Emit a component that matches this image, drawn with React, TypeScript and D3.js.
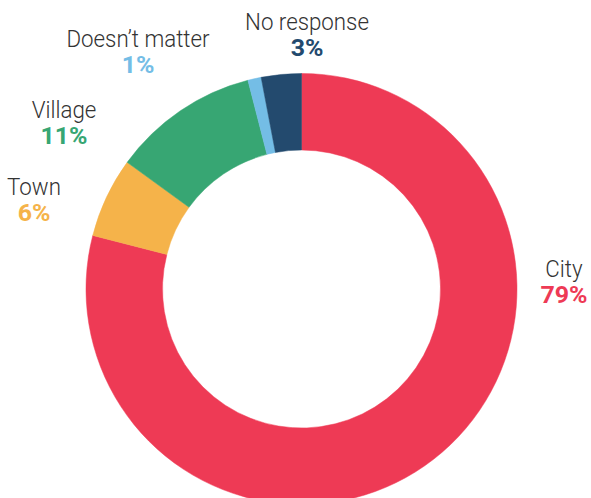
import React from "react";
import * as d3 from "d3";

const categories = ["City", "Town", "Village", "Doesn’t matter", "No response"];
const values = [79, 6, 11, 1, 3];
const colors = ["#EE3A55", "#F5B34A", "#37A673", "#74BDE6", "#234A6E"];
const labelPos = [
  [564, 277],
  [34, 195],
  [64, 118],
  [138, 47],
  [307, 30],
];

export default function App() {
  const W = 591, H = 498;
  const cx = 301.5, cy = 289;
  const pie = d3.pie<number>().sort(null).value((d) => d)(values);
  const arc = d3.arc<d3.PieArcDatum<number>>().innerRadius(139).outerRadius(215.5);
  return (
    <svg width={W} height={H} style={{ position: "fixed", left: 0, top: 0, background: "#fff" }}>
      <g transform={`translate(${cx},${cy})`}>
        {pie.map((p, i) => (
          <path key={i} d={arc(p) || ""} fill={colors[i]} stroke={colors[i]} strokeWidth={0.5} />
        ))}
      </g>
      {categories.map((c, i) => (
        <g key={c} fontFamily="Roboto, sans-serif" textAnchor="middle">
          <text
            transform={`translate(${labelPos[i][0]},${labelPos[i][1]}) scale(0.93,1)`}
            fontSize={24}
            fontWeight={300}
            fill="#333"
          >
            {c}
          </text>
          <text
            transform={`translate(${labelPos[i][0]},${labelPos[i][1] + 26}) scale(1.04,1)`}
            fontSize={24}
            fontWeight={700}
            fill={colors[i]}
          >
            {values[i]}%
          </text>
        </g>
      ))}
    </svg>
  );
}
